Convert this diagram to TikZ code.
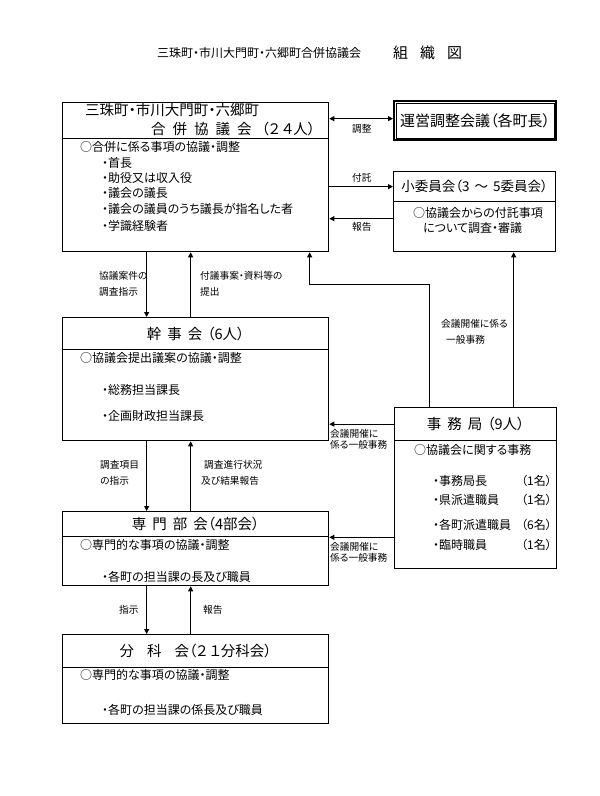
\documentclass[tikz,border=0pt]{standalone}
\usepackage{fontspec}
\setmainfont{Noto Sans CJK JP}[RawFeature={+palt}]
\usetikzlibrary{arrows.meta}

\begin{document}
\begin{tikzpicture}[
    x=1pt, y=-1pt,
    box/.style={draw=black, line width=1.3pt, anchor=north west, inner sep=0pt, minimum width=266pt},
    sbox/.style={box, minimum width=162pt},
    boxtitle/.style={font=\fontsize{14.5}{16}\selectfont},
    item/.style={anchor=west, inner sep=0pt, font=\fontsize{12}{13}\selectfont},
    note/.style={anchor=west, inner sep=0pt, align=left, font=\fontsize{9.7}{16}\selectfont},
    tight/.style={font=\fontsize{9.7}{11.5}\selectfont},
    link/.style={draw=black, line width=0.9pt, -{Triangle[length=5pt,width=5pt]}}
]

% Rozmiar strony jak w oryginale
\useasboundingbox (0,0) rectangle (600,796);

% Tytuł
\node[item] (title) at (157,53) {三珠町・市川大門町・六郷町合併協議会};
\node[item, font=\fontsize{15}{17}\selectfont] (titleb) at (393,53) {組\hspace{12pt}織\hspace{12pt}図};

% Ramki: 合併協議会
\node[box, minimum height=36pt] (kyoH) at (62,102) {};
\node[box, minimum height=113pt] (kyoB) at (62,138) {};
\node[item, boxtitle] (kyoT1) at (85,110) {三珠町・市川大門町・六郷町};
\node[item, boxtitle] (kyoT2) at (151,129) {合\hspace{7pt}併\hspace{7pt}協\hspace{7pt}議\hspace{7pt}会\hspace{10pt}（２\,４人）};

% Ramki: 運営調整会議 (podwójna)
\node[sbox, line width=2.4pt, minimum height=39pt, font=\fontsize{15}{17}\selectfont] (unei) at (393,100) {運営調整会議（各町長）};
\draw[line width=0.7pt] ([shift={(3pt,-3pt)}]unei.north west) rectangle ([shift={(-3pt,3pt)}]unei.south east);

% Ramki: 小委員会
\node[sbox, font=\fontsize{13.5}{15}\selectfont, minimum height=30pt] (shoiH) at (393,171) {小委員会（3\hspace{5pt}～\hspace{5pt}5委員会）};
\node[sbox, minimum height=50pt] (shoiB) at (393,201) {};

% Ramki: 幹事会
\node[box, boxtitle, minimum height=32pt] (kanH) at (62,317) {幹\hspace{6pt}事\hspace{6pt}会\hspace{5pt}（6人）};
\node[box, minimum height=91pt] (kanB) at (62,349) {};

% Ramki: 事務局
\node[sbox, boxtitle, minimum height=33pt] (jimuH) at (394,407) {事\hspace{6pt}務\hspace{6pt}局\hspace{5pt}（9人）};
\node[sbox, minimum height=128pt] (jimuB) at (394,440) {};

% Ramki: 専門部会
\node[box, boxtitle, minimum height=25pt] (senH) at (62,511) {専\hspace{6pt}門\hspace{6pt}部\hspace{6pt}会（4部会）};
\node[box, minimum height=49pt] (senB) at (62,536) {};

% Ramki: 分科会
\node[box, boxtitle, minimum height=33pt] (bunH) at (62,634) {分\hspace{13pt}科\hspace{13pt}会（２\,１分科会）};
\node[box, minimum height=56pt] (bunB) at (62,667) {};

% Teksty w ramkach
\node[item] (kyoI0) at (80,147) {○合併に係る事項の協議・調整};
\node[item] (kyoI1) at (102,163) {・首長};
\node[item] (kyoI2) at (102,178) {・助役又は収入役};
\node[item] (kyoI3) at (102,193) {・議会の議長};
\node[item] (kyoI4) at (102,209) {・議会の議員のうち議長が指名した者};
\node[item] (kyoI5) at (102,226) {・学識経験者};

\node[item] (shoiI1) at (413,213) {○協議会からの付託事項};
\node[item] (shoiI2) at (423,228) {について調査・審議};

\node[item] (kanI0) at (80,358) {○協議会提出議案の協議・調整};
\node[item] (kanI1) at (102,390) {・総務担当課長};
\node[item] (kanI2) at (102,416) {・企画財政担当課長};

\node[item] (jimuI0) at (414,450) {○協議会に関する事務};
\node[item] (jimuI1) at (433,481) {・事務局長};
\node[item] (jimuI2) at (433,500) {・県派遣職員};
\node[item] (jimuI3) at (433,525) {・各町派遣職員};
\node[item] (jimuI4) at (433,545) {・臨時職員};
\node[item] (jimuN1) at (521,481) {（1名）};
\node[item] (jimuN2) at (521,500) {（1名）};
\node[item] (jimuN3) at (521,525) {（6名）};
\node[item] (jimuN4) at (521,545) {（1名）};

\node[item] (senI0) at (80,545) {○専門的な事項の協議・調整};
\node[item] (senI1) at (102,577) {・各町の担当課の長及び職員};

\node[item] (bunI0) at (80,675) {○専門的な事項の協議・調整};
\node[item] (bunI1) at (102,710) {・各町の担当課の係長及び職員};

% Pomocnicze punkty dla strzałek
\coordinate (hokoku) at ([yshift=8pt]shoiB.west);
\coordinate (jUp) at ([xshift=38pt]jimuH.north);
\coordinate (jLeft) at ([xshift=-46pt]jimuH.north);
\coordinate (kIn) at ([xshift=114pt]kyoB.south);
\coordinate (kBend) at ([yshift=-32pt]kIn);

% Strzałki
\draw[link, {Triangle[length=5pt,width=5pt]}-{Triangle[length=5pt,width=5pt]}] ([yshift=2pt]kyoH.east) -- ([yshift=2pt]kyoH.east -| unei.west);
\draw[link] (kyoB.east |- shoiH.west) -- (shoiH.west);
\draw[link] (hokoku) -- (hokoku -| kyoB.east);
\draw[link] ([xshift=-49pt]kyoB.south) -- ([xshift=-49pt]kanH.north);
\draw[link] ([xshift=-5pt]kanH.north) -- ([xshift=-5pt]kyoB.south);
\draw[link] (jLeft) |- (kBend) -- (kIn);
\draw[link] (jUp) -- (jUp |- shoiB.south);
\draw[link] (jimuH.west) -- (jimuH.west -| kanB.east);
\draw[link] (jimuB.west |- senH.south east) -- (senH.south east);
\draw[link] ([xshift=-49pt]kanB.south) -- ([xshift=-49pt]senH.north);
\draw[link] ([xshift=-5pt]senH.north) -- ([xshift=-5pt]kanB.south);
\draw[link] ([xshift=-49pt]senB.south) -- ([xshift=-49pt]bunH.north);
\draw[link] ([xshift=-5pt]bunH.north) -- ([xshift=-5pt]senB.south);

% Opisy strzałek
\node[note] (lChosei) at (352,129) {調整};
\node[note] (lFutaku) at (352,178) {付託};
\node[note] (lHokoku) at (352,227) {報告};
\node[note] (lShiji1) at (99,284) {協議案件の\\調査指示};
\node[note] (lTeishutsu) at (200,284) {付議事案・資料等の\\提出};
\node[note] (lJimu1) at (441,332) {会議開催に係る\\\hspace{5pt}一般事務};
\node[note, tight] (lJimu2) at (330,439.5) {会議開催に\\係る一般事務};
\node[note] (lShiji2) at (100,472.5) {調査項目\\の指示};
\node[note] (lHokoku2) at (201,472.5) {\hspace{3pt}調査進行状況\\及び結果報告};
\node[note, tight] (lJimu3) at (330,552.5) {会議開催に\\係る一般事務};
\node[note] (lShiji3) at (119,610) {指示};
\node[note] (lHokoku3) at (203,610) {報告};

\end{tikzpicture}
\end{document}
